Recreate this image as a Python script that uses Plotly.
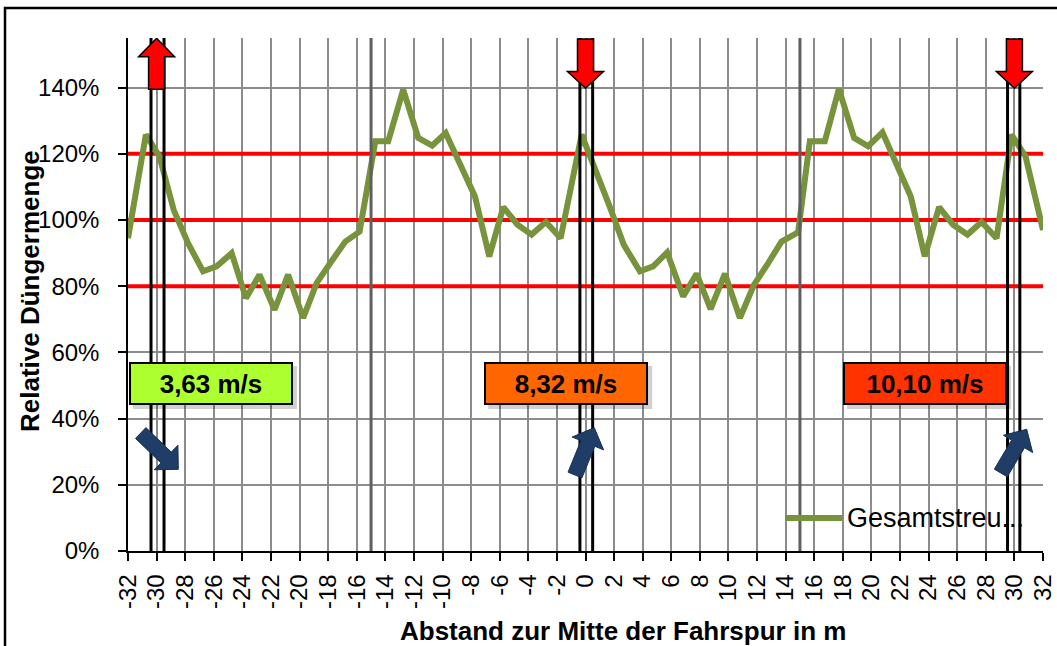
import plotly.graph_objects as go

# ---------------- data ----------------
dist_m = [-32.0, -30.75, -29.8, -28.8, -27.8, -26.75, -25.8, -24.75, -23.75, -22.8, -21.75,
          -20.8, -19.75, -18.8, -17.85, -16.8, -15.8,
          -14.7, -13.8, -12.75, -11.7, -10.72, -9.78, -8.78, -7.73, -6.73, -5.75, -4.75,
          -3.77, -2.77, -1.74,
          -0.27, 0.73, 1.7, 2.68, 3.8, 4.73, 5.71, 6.83, 7.77, 8.75, 9.75, 10.8, 11.78,
          12.78, 13.71, 14.87,
          15.69, 16.74, 17.72, 18.79, 19.77, 20.77, 21.75, 22.75, 23.73, 24.73, 25.71,
          26.72, 27.7, 28.75,
          29.8, 30.78, 32.0]
menge_pct = [94.5, 125.8, 119.2, 103.0, 93.0, 84.5, 86.0, 90.0, 76.4, 83.5, 72.9,
             83.5, 70.4, 81.0, 87.0, 93.5, 96.5,
             123.8, 123.8, 139.4, 124.8, 122.5, 126.3, 116.7, 107.1, 89.0, 103.9, 98.6,
             95.6, 99.4, 94.5,
             125.8, 115.0, 104.0, 92.5, 84.5, 86.0, 90.2, 76.9, 83.8, 73.1, 83.8, 70.4, 80.4,
             87.0, 93.5, 96.3,
             123.8, 123.8, 139.6, 124.8, 122.3, 126.5, 116.7, 107.1, 89.0, 103.9, 98.6,
             95.6, 99.4, 94.5,
             125.8, 119.2, 97.0]

series_name = "Gesamtstreu..."
x_ticks = list(range(-32, 33, 2))
y_ticks = [0, 20, 40, 60, 80, 100, 120, 140]
y_tick_labels = [f"{v}%" for v in y_ticks]
ref_levels = [80, 100, 120]
tram_lines = [-30.39, -29.48, -0.39, 0.5, 29.52, 30.38]
boundary_lines = [-15, 15]
tram_centers = [-30, 0, 30]
tram_arrow_dir = ["up", "down", "down"]
speed_labels = ["3,63 m/s", "8,32 m/s", "10,10 m/s"]
speed_colors = ["#ADFF2F", "#FF6600", "#FF3300"]
speed_label_x = [-26.2, -1.35, 23.75]
speed_label_y = 50.6
wind_tail = [(-31.11, 35.65), (-0.735, 22.96), (29.05, 23.57)]
wind_tip = [(-28.48, 24.68), (0.615, 37.25), (30.86, 36.77)]

# ---------------- layout geometry ----------------
W, H = 1057, 646
ML, MR, MT, MB = 128, 14, 38, 95
XMIN, XMAX = -32, 32
YMIN, YMAX = 0, 155
PW = W - ML - MR
PH = H - MT - MB
SX = PW / (XMAX - XMIN)   # px per m
SY = PH / (YMAX - YMIN)   # px per %

def to_px(x, y):
    return ML + (x - XMIN) * SX, MT + (YMAX - y) * SY

def to_data(px, py):
    return XMIN + (px - ML) / SX, YMAX - (py - MT) / SY

def path_from_px(pts):
    d = []
    for i, (px, py) in enumerate(pts):
        x, y = to_data(px, py)
        d.append(("M" if i == 0 else "L") + f"{x:.4f},{y:.4f}")
    return " ".join(d) + " Z"

FONT = "Liberation Sans, Arial, sans-serif"
GREEN = "#77933C"

fig = go.Figure()
fig.add_trace(go.Scatter(x=dist_m, y=menge_pct, mode="lines", name=series_name,
                         line=dict(color=GREEN, width=6), showlegend=False,
                         hoverinfo="x+y"))

shapes = []
for lv in ref_levels:
    shapes.append(dict(type="line", xref="x", yref="y", x0=XMIN, x1=XMAX, y0=lv, y1=lv,
                       line=dict(color="#FF0000", width=4), layer="between"))
for bx in boundary_lines:
    shapes.append(dict(type="line", xref="x", yref="y", x0=bx, x1=bx, y0=YMIN, y1=YMAX,
                       line=dict(color="#5f5f5f", width=3), layer="above"))
for tx in tram_lines:
    shapes.append(dict(type="line", xref="x", yref="y", x0=tx, x1=tx, y0=YMIN, y1=YMAX,
                       line=dict(color="#000000", width=3), layer="above"))

# red block arrows at the tramlines
for c, d in zip(tram_centers, tram_arrow_dir):
    cx, _ = to_px(c, 0)
    bw, hw = 8, 18
    if d == "up":
        tip, base, bottom = MT + 0.3, MT + 18.7, MT + 51.3
        pts = [(cx, tip), (cx + hw, base), (cx + bw, base), (cx + bw, bottom),
               (cx - bw, bottom), (cx - bw, base), (cx - hw, base)]
    else:
        top, base, tip = MT + 1, MT + 33.5, MT + 50.3
        pts = [(cx - bw, top), (cx + bw, top), (cx + bw, base), (cx + hw, base),
               (cx, tip), (cx - hw, base), (cx - bw, base)]
    shapes.append(dict(type="path", xref="x", yref="y", path=path_from_px(pts),
                       fillcolor="#FF0000", line=dict(color="#000000", width=1.5),
                       layer="above"))

# blue wind arrows
for (tx, ty), (px_, py_) in zip(wind_tail, wind_tip):
    ax, ay = to_px(tx, ty)
    bx_, by_ = to_px(px_, py_)
    vx, vy = bx_ - ax, by_ - ay
    ln = (vx ** 2 + vy ** 2) ** 0.5
    ux, uy = vx / ln, vy / ln
    nx, ny = -uy, ux
    bw, hw, hl = 7.5, 17, 17
    hx, hy = bx_ - ux * hl, by_ - uy * hl
    pts = [(ax + nx * bw, ay + ny * bw), (hx + nx * bw, hy + ny * bw),
           (hx + nx * hw, hy + ny * hw), (bx_, by_),
           (hx - nx * hw, hy - ny * hw), (hx - nx * bw, hy - ny * bw),
           (ax - nx * bw, ay - ny * bw)]
    shapes.append(dict(type="path", xref="x", yref="y", path=path_from_px(pts),
                       fillcolor="#1F3D66", line=dict(color="#17304F", width=1),
                       layer="above"))

# label box shadows
BOX_W, BOX_H = 164, 43
for lx in speed_label_x:
    cx, cy = to_px(lx, speed_label_y)
    x0, y0 = to_data(cx - BOX_W / 2 + 4, cy + BOX_H / 2 + 4)
    x1, y1 = to_data(cx + BOX_W / 2 + 4, cy - BOX_H / 2 + 4)
    shapes.append(dict(type="rect", xref="x", yref="y", x0=x0, x1=x1, y0=y0, y1=y1,
                       fillcolor="rgba(0,0,0,0.18)", line=dict(width=0), layer="above"))

# legend sample line
lg_x0, lg_y = to_data(785, 518)
lg_x1, _ = to_data(842, 518)
shapes.append(dict(type="line", xref="x", yref="y", x0=lg_x0, x1=lg_x1, y0=lg_y, y1=lg_y,
                   line=dict(color=GREEN, width=6), layer="above"))

# outer chart border
shapes.append(dict(type="rect", xref="paper", yref="paper",
                   x0=(5 - ML) / PW, x1=(W + 5 - ML) / PW,
                   y0=-(MB + 10) / PH, y1=(PH + MT - 8) / PH,
                   line=dict(color="#000000", width=2.5), fillcolor="rgba(0,0,0,0)"))

annotations = []
for txt, col, lx in zip(speed_labels, speed_colors, speed_label_x):
    annotations.append(dict(x=lx, y=speed_label_y, xref="x", yref="y", text=f"<b>{txt}</b>",
                            showarrow=False, bgcolor=col, bordercolor="#000000",
                            borderwidth=2, borderpad=1, width=BOX_W - 6, height=BOX_H - 6,
                            font=dict(family=FONT, size=26, color="#000000")))
lt_x, lt_y = to_data(845, 518)
annotations.append(dict(x=lt_x, y=lt_y, xref="x", yref="y", text=series_name,
                        showarrow=False, xanchor="left", yanchor="middle",
                        font=dict(family=FONT, size=27, color="#000000")))
annotations.append(dict(x=(623 - ML) / PW, y=-(631 - MT - PH) / PH, xref="paper", yref="paper",
                        text="<b>Abstand zur Mitte der Fahrspur in m</b>", showarrow=False,
                        xanchor="center", yanchor="middle",
                        font=dict(family=FONT, size=26, color="#000000")))
annotations.append(dict(x=(30 - ML) / PW, y=(MT + PH - 291) / PH, xref="paper", yref="paper",
                        text="<b>Relative Düngermenge</b>", showarrow=False, textangle=-90,
                        xanchor="center", yanchor="middle",
                        font=dict(family=FONT, size=26, color="#000000")))

fig.update_layout(
    width=W, height=H,
    margin=dict(l=ML, r=MR, t=MT, b=MB, pad=0, autoexpand=False),
    paper_bgcolor="#FFFFFF", plot_bgcolor="#FFFFFF",
    shapes=shapes, annotations=annotations,
    showlegend=False,
    font=dict(family=FONT, size=24, color="#000000"),
    xaxis=dict(range=[XMIN, XMAX], tickmode="array", tickvals=x_ticks,
               ticktext=[str(v) for v in x_ticks], tickangle=-90,
               showgrid=True, gridcolor="#8c8c8c", gridwidth=1.5,
               showline=True, linecolor="#000000", linewidth=1.5, zeroline=False,
               ticks="outside", ticklen=8, tickwidth=1.5, tickcolor="#000000",
               ticklabelstandoff=4, automargin=False,
               tickfont=dict(family=FONT, size=24, color="#000000")),
    yaxis=dict(range=[YMIN, YMAX], tickmode="array", tickvals=y_ticks, ticktext=y_tick_labels,
               showgrid=True, gridcolor="#8c8c8c", gridwidth=1.5,
               showline=True, linecolor="#000000", linewidth=1.5, zeroline=False,
               ticks="outside", ticklen=8, tickwidth=1.5, tickcolor="#000000",
               ticklabelstandoff=14, automargin=False,
               tickfont=dict(family=FONT, size=24, color="#000000")),
)

fig.write_html("out.html", config={"displayModeBar": False},
               post_script="document.body.style.margin='0px';document.body.style.overflow='hidden';")
